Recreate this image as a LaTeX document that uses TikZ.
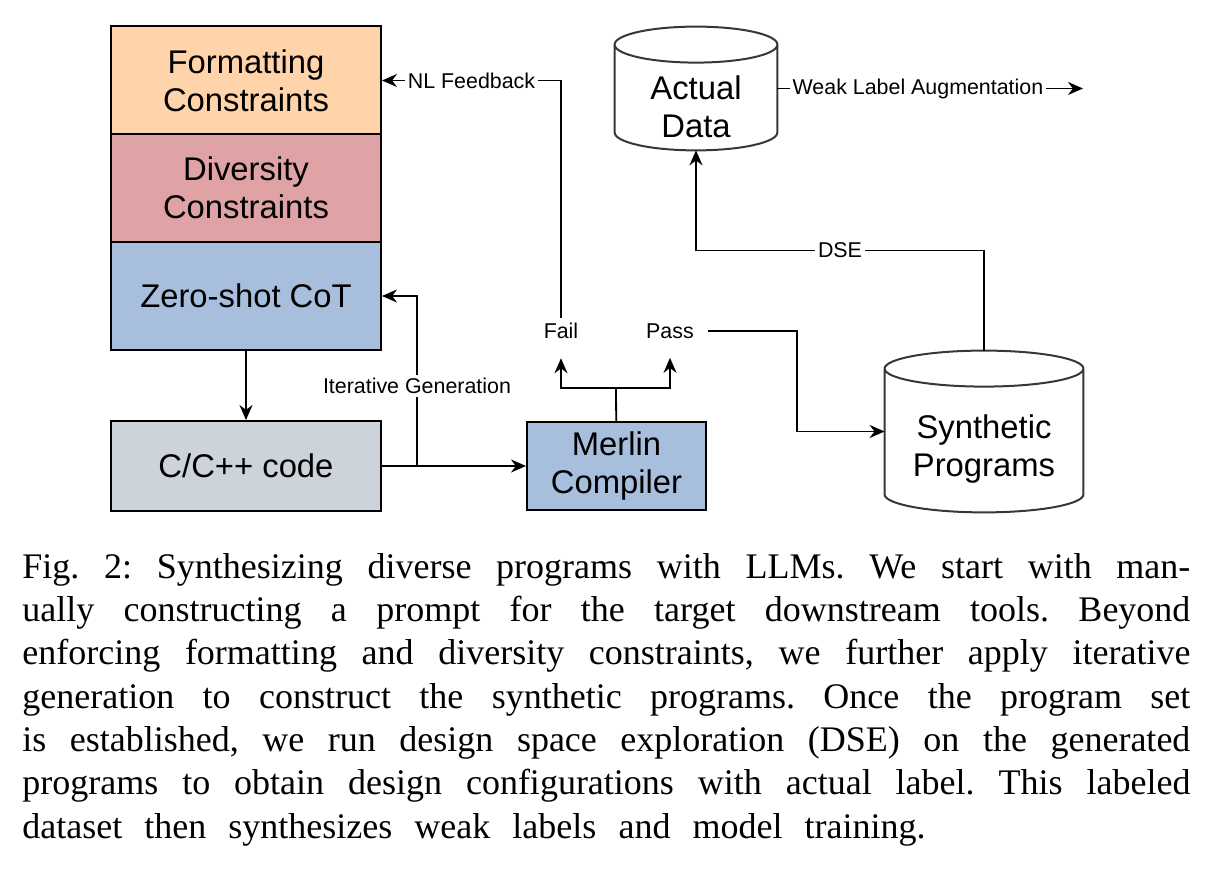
\documentclass[tikz,border=0pt]{standalone}
\usepackage{fontspec}
\setmainfont{Liberation Sans}
\newfontfamily\capfont[WordSpace=2.45]{Liberation Serif}
\usepackage{tikz}
\usetikzlibrary{arrows.meta, calc}

\definecolor{fmtfill}{RGB}{255,212,170}
\definecolor{divfill}{RGB}{223,163,166}
\definecolor{cotfill}{RGB}{167,191,220}
\definecolor{codefill}{RGB}{205,211,219}
\definecolor{dbline}{RGB}{55,55,55}
\newcommand{\lidry}{9pt}

\begin{document}
\begin{tikzpicture}[x=0.5pt, y=-0.5pt, >={Stealth[length=7.5pt, width=6.5pt]},
  stack/.style ={draw=black, line width=1pt, minimum width=135pt,
    minimum height=54pt, align=center, font=\fontsize{16.4}{19}\selectfont},
  % 
  database/.style ={inner sep=0pt, align=center,
    font=\fontsize{16.4}{19}\selectfont},
  lid/.style ={draw=dbline, line width=1pt},
  %
  flow/.style ={line width=0.9pt},
  tag/.style ={font=\fontsize{10.7}{12}\selectfont, inner sep=1.5pt} ]

  \useasboundingbox (0,0) rectangle (1212,876);

  \begin{scope}
    %%%%%%%%%%%%%%%%%%%%%%%%%%%%%%% 
    \node [stack, fill=fmtfill] (fmt) at (246,80.5) {Formatting\\Constraints};
    \node [stack, fill=divfill] (div) at (246,188) {Diversity\\Constraints};
    \node [stack, fill=cotfill] (cot) at (246,296) {Zero-shot CoT};
    \node [stack, fill=codefill, minimum height=45pt] (code) at (246,466)
    {C/C++ code};
    \node [stack, fill=cotfill, minimum width=89.5pt, minimum height=44pt]
    (merlin) at (616.5,466) {Merlin\\Compiler};
    %%%%%%%%%%%%%%%%%%%%%%%%%%%%%%%
    \node [database, minimum width=81pt, minimum height=43.5pt]
    (actual) at (696,106.5) {Actual\\Data};
    \node [database, minimum width=99pt, minimum height=62.5pt]
    (synth) at (984,449.5) {Synthetic\\Programs};
    %%%%%%%%%%%%%%%%%%%%%%%%%%%%%%%
    \node [tag] (fail) at (561,331) {Fail};
    \node [tag] (pass) at (670,331) {Pass};
    \coordinate (split) at (417,466);
    \coordinate (fork) at (616,388);
    \coordinate (wlend) at (1083,88.5);
  \end{scope}

  % cylinder outlines round the two data nodes
  \foreach \db in {actual, synth}
  \draw [lid] let \p1=(\db.north west), \p2=(\db.south east),
  \n1={(\x2-\x1)/2} in
  (\x1,\y1+\lidry) -- (\x1,\y2+\lidry)
  arc [start angle=180, end angle=360, x radius=\n1, y radius=\lidry]
  -- (\x2,\y1+\lidry)
  ([yshift=\lidry]\db.north) ellipse [x radius=\n1, y radius=\lidry];

  \begin{scope}[flow]
    \draw [->] (cot) -- (code);
    \draw [->] (code) -- (merlin);
    \draw [->] (split) |- node [tag, pos=0.235, fill=white]
    {Iterative Generation} (cot);
    \draw (merlin) -- (fork);
    \draw [->, shorten >=8pt] (fork) -| (fail);
    \draw [->, shorten >=8pt] (fork) -| (pass);
    \draw [->, shorten <=1pt] (fail.north) |- node [tag, pos=0.75, fill=white]
    {NL Feedback} (fmt);
    \draw [->, shorten <=5.5pt] (pass.east) -- ++(100,0)
    |- ([yshift=\lidry]synth.west);
    \draw [->] ([yshift=2*\lidry]synth.north) -- ++(0,-100)
    -| node [tag, pos=0.25, fill=white] {DSE} (actual.south);
    \draw [->] ([yshift=\lidry]actual.east) -- node [tag, pos=0.46, fill=white]
    {Weak Label Augmentation} (wlend);
  \end{scope}

  \node [anchor=north west, inner sep=0pt, text width=584pt, align=justify,
  font=\capfont\fontsize{18}{21.65}\selectfont\frenchspacing] (caption)
  at (22,553)
  {Fig. 2: Synthesizing diverse programs with LLMs. We start with
    man-\linebreak ually constructing a prompt for the target downstream
    tools. Beyond\linebreak enforcing formatting and diversity
    constraints, we further apply iterative\linebreak generation to
    construct the synthetic programs. Once the program set\linebreak is
    established, we run design space exploration (DSE) on the
    generated\linebreak programs to obtain design configurations with
    actual label. This labeled\linebreak dataset then synthesizes weak
    labels and model training.};

\end{tikzpicture}
\end{document}
